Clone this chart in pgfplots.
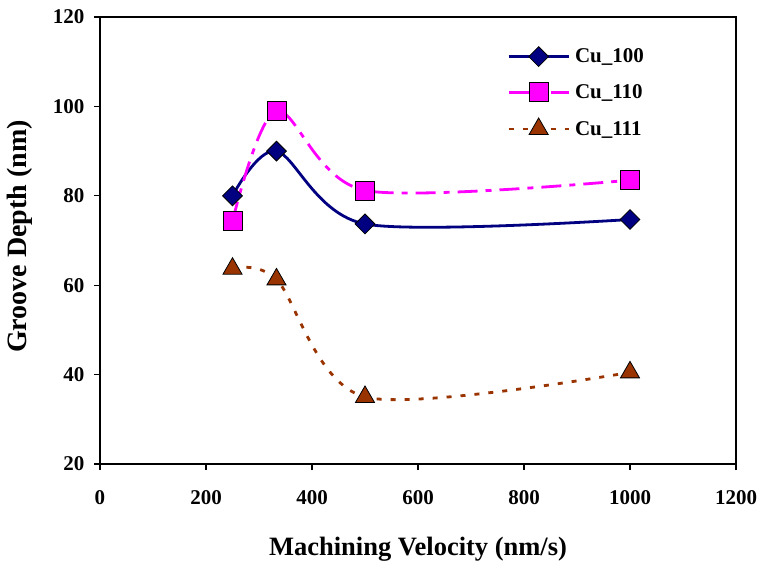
\documentclass[border=0pt]{standalone}
\usepackage{fontspec}
\setmainfont{Liberation Serif}
\usepackage{pgfplots}
\pgfplotsset{compat=1.18}
\definecolor{cunavy}{HTML}{000080}
\definecolor{cumag}{HTML}{FF00FF}
\definecolor{cubrown}{HTML}{993300}
\begin{document}
\begin{tikzpicture}
\begin{axis}[
  scale only axis,
  width=636pt, height=447pt,
  xmin=0, xmax=1200, ymin=20, ymax=120,
  xtick={0,200,...,1200}, ytick={20,40,...,120},
  axis line style={line width=2pt},
  tick style={line width=1.2pt, black},
  major tick length=6pt,
  tick align=outside,
  xtick pos=bottom, ytick pos=left,
  /pgf/number format/assume math mode=true,
  /pgf/number format/1000 sep={},
  ticklabel style={font=\fontsize{21}{22}\selectfont\bfseries},
  xticklabel style={yshift=-17pt},
  yticklabel style={xshift=-6pt},
  xlabel={Machining Velocity (nm/s)},
  ylabel={Groove Depth (nm)},
  xlabel style={font=\fontsize{26.5}{28}\selectfont\bfseries, yshift=-26pt},
  ylabel style={font=\fontsize{28}{30}\selectfont\bfseries, yshift=14pt, xshift=4pt},
  legend style={draw=none, fill=none, at={(axis cs:768,113.4)}, anchor=north west,
    font=\fontsize{21}{22}\selectfont\bfseries, row sep=16pt, column sep=3pt, inner sep=0pt},
  legend cell align=left,
  legend image code/.code={
    \draw[#1, mark repeat=2, mark phase=2] plot coordinates {(0pt,0pt) (30pt,0pt) (60pt,0pt)};
  },
]
\addplot[cunavy, line width=2.8pt, smooth, mark=square*, mark size=7pt,
  mark options={solid, rotate=45, fill=cunavy, draw=black, line width=0.8pt}]
  coordinates {(250,80) (333,90) (500,73.7) (1000,74.7)};
\addlegendentry{Cu\_100}
\addplot[cumag, line width=2.8pt, smooth, dash pattern=on 20pt off 8pt on 6pt off 8pt,
  mark=square*, mark size=9.5pt,
  mark options={solid, fill=cumag, draw=black, line width=0.8pt}]
  coordinates {(250,74.3) (333,99) (500,81.2) (1000,83.5)};
\addlegendentry{Cu\_110}
\addplot[cubrown, line width=2.8pt, smooth, dash pattern=on 5pt off 9pt,
  mark=triangle*, mark size=11pt,
  mark options={solid, fill=cubrown, draw=black, line width=0.8pt}]
  coordinates {(250,63.7) (333,61.3) (500,35) (1000,40.5)};
\addlegendentry{Cu\_111}
\end{axis}
\pgfresetboundingbox
\path[use as bounding box] (current axis.south west) ++(-100pt,-98pt) rectangle ++(759pt,562pt);
\end{tikzpicture}
\end{document}
